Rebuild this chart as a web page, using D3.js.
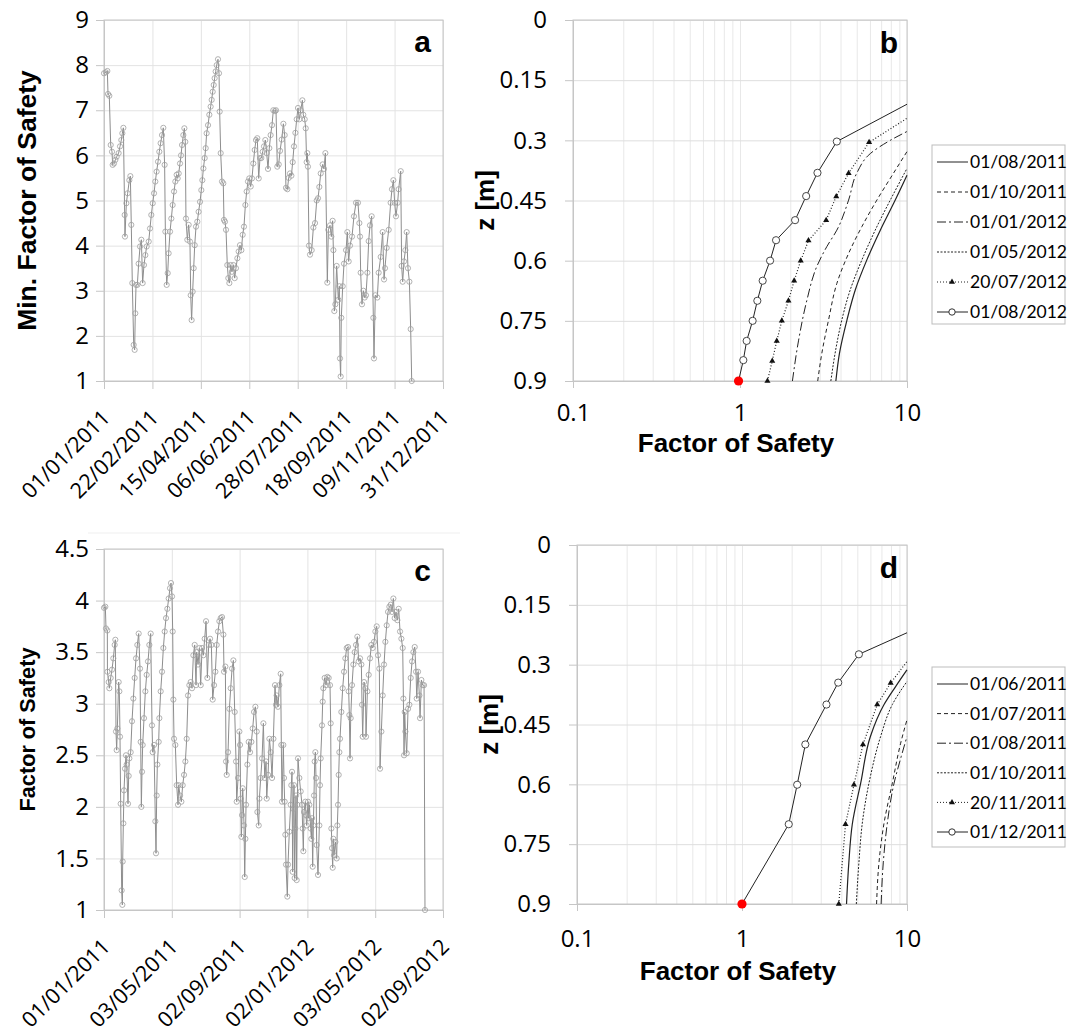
<!DOCTYPE html>
<html><head><meta charset="utf-8">
<script src="https://cdn.jsdelivr.net/npm/d3@7"></script>
<style>body{margin:0;background:#fff}svg{display:block}</style>
</head><body>
<svg id="chart" width="1067" height="1034"></svg>
<script>
// ---------- DATA ----------
// Panel a: [day since 01/01/2011, min factor of safety]
const panelA = [[0,7.82],[2.1,7.84],[3.6,7.87],[4.3,7.36],[5.7,7.32],[7.2,6.23],[8.6,6.08],[9.3,5.79],[10.7,5.82],[12.2,5.9],[13.6,5.97],[15.7,6.05],[17.2,6.2],[18.6,6.34],[19.7,6.49],[20.8,6.61],[22.2,4.68],[22.5,4.2],[24,4.94],[25.4,5.16],[27.2,5.45],[28.3,5.54],[29.3,4.46],[30.4,3.17],[31.9,1.8],[32.9,1.69],[33.6,2.5],[34.4,3.13],[35.8,3.13],[37.2,3.6],[38.7,3.98],[40.1,4.13],[41.5,3.17],[42.9,3.57],[44.4,3.79],[45.8,3.98],[48,4.09],[49.4,4.38],[50.8,4.68],[52.3,4.94],[53.7,5.16],[55.1,5.42],[56.5,5.64],[58,5.86],[59.4,6.08],[60.8,6.27],[62.3,6.45],[63.7,6.61],[65.1,5.79],[65.9,4.31],[67.3,3.13],[68.4,3.39],[69.4,3.83],[70.9,4.31],[72.3,4.6],[73.7,4.9],[75.2,5.2],[76.6,5.42],[78,5.57],[79.1,5.49],[80.2,5.6],[81.6,5.82],[82.7,6.0],[83.8,6.23],[85.2,6.45],[86.3,6.6],[87.3,6.3],[88,4.6],[89.5,4.13],[90.9,4.46],[92.3,4.09],[93.1,2.9],[94.1,2.35],[95.2,2.98],[96.3,3.5],[97.4,4.01],[98.8,4.42],[100.2,4.53],[101.6,4.75],[103.1,4.97],[104.5,5.23],[105.6,5.45],[106.7,5.71],[108.1,5.94],[109.2,6.16],[110.2,6.49],[111.7,6.67],[113.1,6.9],[114.5,7.08],[115.6,7.23],[116.7,7.41],[117.8,7.56],[118.8,7.71],[119.9,7.86],[121,8.0],[122.4,8.13],[123.5,7.82],[124.2,6.97],[125.3,6.05],[126.7,5.42],[128.1,5.38],[128.8,4.57],[129.9,4.53],[131,4.35],[132.4,3.57],[133.5,3.28],[134.6,3.17],[136,3.57],[137.4,3.42],[138.9,3.57],[140.3,3.28],[141.7,3.5],[143.2,3.72],[144.6,3.87],[146,4.01],[147.5,3.9],[148.9,4.24],[150.3,4.42],[151.8,4.9],[153.2,5.2],[154.6,5.42],[156,5.49],[157.5,5.31],[158.9,5.49],[160.3,5.82],[161.8,6.12],[163.2,6.34],[164.6,6.38],[166.1,5.49],[167.5,5.94],[168.9,5.94],[170.4,6.08],[171.8,6.2],[173.2,6.34],[174.7,6.05],[176.1,5.7],[177.5,6.16],[178.9,6.45],[180.4,6.67],[181.8,7.0],[183.6,6.98],[184.7,7.0],[186.1,5.75],[187.6,5.8],[189,6.1],[190.8,6.35],[192.6,6.7],[194,6.45],[195.4,5.28],[196.9,5.25],[198.3,5.5],[199.7,5.6],[201.2,5.55],[202.6,5.85],[204,6.2],[205.5,6.5],[206.9,6.8],[208.3,7.05],[209.7,6.8],[211.2,7.0],[213,7.22],[214,6.9],[215.5,6.8],[216.6,6.6],[217.6,5.85],[218.3,6.05],[219,5.75],[220.1,4.0],[221.2,3.8],[223,3.9],[224.8,4.4],[226.6,4.5],[228.4,5.0],[229.8,5.05],[231.2,5.3],[232.7,5.6],[234.8,5.8],[236.2,5.7],[237.7,6.05],[239.8,3.18],[240.9,4.35],[242.7,4.45],[244.1,4.2],[245.5,4.55],[246.3,3.9],[247.3,2.55],[248.4,2.7],[249.8,3.55],[251.6,2.8],[252.7,3.1],[253.4,1.5],[254.1,1.1],[254.8,2.4],[256.3,3.1],[257.7,3.6],[259.9,3.9],[261.3,4.3],[262.7,3.65],[264.1,4.0],[266.3,4.2],[268.4,4.65],[270.6,4.95],[272.7,4.95],[274.2,4.5],[274.9,4.2],[275.6,3.4],[277,2.7],[278.5,3.0],[279.9,2.85],[281.3,2.9],[282.8,3.4],[284.2,4.1],[285.6,4.45],[287.4,4.65],[289.2,2.4],[289.9,1.5],[291.3,2.9],[293.5,2.85],[294.9,3.4],[297.1,3.75],[299.2,4.3],[300.7,3.25],[301.7,3.5],[303.5,3.95],[305.7,4.35],[307.8,4.95],[309.2,5.25],[310.7,5.45],[312.1,4.95],[313.5,4.65],[315.3,4.95],[316.4,5.25],[318.6,5.65],[319.6,3.55],[320.7,3.2],[322.1,3.65],[323.6,3.9],[325,4.3],[326.4,3.5],[327.9,3.2],[329.3,2.15],[330.4,1.0]];
const aTickDays = [0,52,104,156,208,260,312,364];
const aTickLabels = ["01/01/2011","22/02/2011","15/04/2011","06/06/2011","28/07/2011","18/09/2011","09/11/2011","31/12/2011"];
const aYTicks = [1,2,3,4,5,6,7,8,9];

// Panel c: [day since 01/01/2011, factor of safety]
const panelC = [[0,3.93],[2.4,3.94],[3.6,3.73],[6,3.71],[6.2,3.31],[8.4,3.21],[9.6,3.15],[12,3.25],[14.4,3.33],[16.8,3.44],[19.2,3.57],[20.4,3.62],[21.6,2.73],[22.8,2.55],[24,2.76],[26.4,3.21],[27.6,3.12],[28.8,2.68],[30,2.03],[31.8,1.19],[33,1.05],[33.6,1.47],[34.8,1.84],[36,2.16],[37.8,2.37],[39.6,2.5],[40.8,2.41],[43.2,2.03],[44.4,2.3],[45.6,2.47],[48,2.53],[50.4,2.83],[52.8,3.05],[55.2,3.25],[57.6,3.44],[60,3.57],[62.4,3.68],[64.8,3.34],[66,2.63],[67.2,2.0],[68.4,2.34],[69.6,2.6],[72,2.86],[74.4,3.12],[76.8,3.28],[79.2,3.41],[81.6,3.57],[84,3.68],[86.4,2.79],[87.6,2.53],[90,2.6],[92.4,1.86],[93.6,1.55],[94.8,2.11],[96,2.41],[98.4,2.63],[99.6,2.86],[102,3.12],[104.4,3.31],[106.8,3.54],[109.2,3.7],[111.6,3.83],[114,3.92],[116.4,4.02],[118.8,4.12],[120.6,4.17],[122.4,4.04],[123.6,3.7],[124.8,3.04],[126,2.66],[128.4,2.6],[130.8,2.21],[133.2,2.02],[134.4,2.21],[136.8,2.11],[139.2,2.05],[141.6,2.21],[144,2.31],[146.4,2.44],[148.8,2.66],[151.2,3.08],[153.6,3.18],[156,3.21],[158.4,3.15],[160.8,3.47],[163.2,3.57],[165.6,3.18],[166.8,3.5],[169.2,3.38],[171.6,3.54],[174,3.18],[176.4,3.54],[178.8,3.47],[181.2,3.63],[183.6,3.8],[186,3.25],[188.4,3.57],[190.8,3.63],[193.2,3.57],[195.6,3.04],[198,3.18],[200.4,3.31],[202.8,3.57],[205.2,3.7],[207.6,3.8],[210,3.83],[212.4,3.84],[214.8,3.67],[216,3.31],[218.4,3.36],[219.6,2.44],[220.8,2.31],[223.2,2.53],[225.6,2.95],[228,3.15],[230.4,3.34],[232.8,3.42],[235.2,2.92],[237.6,2.44],[238.8,2.05],[241.2,2.28],[243.6,2.73],[244.8,2.6],[246,2.08],[247.2,1.71],[248.4,1.92],[249.6,2.18],[252,1.82],[253.2,1.32],[254.4,1.69],[255.6,2.02],[258,2.41],[260.4,2.63],[262.8,2.53],[265.2,2.63],[267.6,2.76],[270,2.92],[272.4,2.97],[274.8,2.73],[276,1.95],[278.4,1.82],[279.6,2.08],[282,2.28],[284.4,2.47],[286.8,2.81],[289.2,2.28],[291.6,2.44],[292.8,2.08],[295.2,2.31],[297.6,2.66],[300,2.53],[302.4,2.28],[304.8,2.66],[307.7,3.18],[309.5,2.99],[310.7,3.08],[313.1,2.97],[315.5,3.18],[317.9,3.29],[319.1,2.6],[320.3,2.05],[322.7,2.6],[323.9,2.28],[325.1,2.05],[326.3,1.73],[327.5,1.44],[329.9,1.13],[331.1,1.44],[333.5,1.76],[335.9,2.02],[337.1,2.21],[338.3,2.34],[339.5,1.37],[340.7,1.98],[341.9,2.21],[343.1,1.31],[344.3,1.79],[345.5,2.11],[346.7,1.29],[347.9,2.02],[349.1,2.47],[351.5,2.28],[353.9,2.15],[356.3,2.02],[357.5,1.79],[358.7,1.57],[359.9,1.95],[362.3,2.05],[363.5,1.92],[364.7,1.82],[367.1,2.05],[368.3,1.89],[369.5,2.02],[371.9,1.79],[373.1,1.69],[374.3,1.89],[375.5,1.42],[376.7,1.82],[377.9,2.11],[379.1,2.44],[380.3,2.53],[381.5,2.28],[382.7,1.63],[385.1,1.34],[387.5,1.82],[388.7,2.21],[389.9,2.47],[392.3,2.79],[393.5,3.02],[394.7,3.15],[397.1,3.25],[399.5,3.18],[401.9,3.26],[404.3,3.25],[406.7,3.18],[407.9,2.81],[409.1,1.79],[410.3,1.6],[411.5,1.41],[412.7,1.69],[413.9,1.53],[416.3,1.66],[418.7,1.5],[419.9,1.82],[421.1,2.02],[422.3,2.31],[423.5,2.53],[424.7,2.66],[427.1,2.92],[429.5,3.15],[431.9,3.31],[434.3,3.44],[436.7,3.54],[439.1,3.55],[440.3,3.12],[441.5,2.89],[442.7,2.47],[443.9,2.86],[446.3,3.18],[448.7,3.38],[451.1,3.5],[453.5,3.57],[455.9,3.65],[458.3,3.41],[460.7,3.44],[463.1,3.38],[464.3,2.99],[465.5,2.68],[467.9,3.21],[470.3,3.15],[471.5,2.68],[473.9,3.12],[476.3,3.28],[478.7,3.44],[481.1,3.57],[483.5,3.54],[485.9,3.6],[488.3,3.7],[490.7,3.75],[493.1,3.47],[495.5,3.34],[496.7,2.37],[499.1,2.73],[501.5,3.08],[503.9,3.38],[506.3,3.6],[508.7,3.76],[511.1,3.89],[513.5,3.94],[515.9,3.96],[518.3,3.89],[520.7,4.02],[523.1,3.83],[525.5,3.89],[527.9,3.81],[530.3,3.92],[532.7,3.7],[535.1,3.63],[537.5,3.54],[538.7,3.05],[539.9,2.5],[541.1,2.92],[542.3,2.73],[544.7,2.52],[547.1,2.95],[549.5,2.99],[551.9,3.25],[554.3,3.41],[556.7,3.5],[559.1,3.55],[561.5,3.31],[562.7,3.05],[565.1,3.31],[567.5,3.08],[568.7,2.86],[571.1,3.23],[573.5,3.18],[575.9,3.18],[577.6,1.0]];
const cTickDays = [0,122,244,366,488,610];
const cTickLabels = ["01/01/2011","03/05/2011","02/09/2011","02/01/2012","03/05/2012","02/09/2012"];
const cYTicks = [1,1.5,2,2.5,3,3.5,4,4.5];

// Panels b and d: profiles [factor of safety, depth z (m)]
const depthTicks = [0,0.15,0.3,0.45,0.6,0.75,0.9];
const depthLabels = ["0","0.15","0.3","0.45","0.6","0.75","0.9"];
const fsTicks = [0.1,1,10];
const fsLabels = ["0.1","1","10"];

const b_01_08_2011 = [[3.75,0.9],[3.94,0.831],[4.37,0.748],[4.9,0.673],[5.75,0.598],[6.92,0.524],[8.32,0.457],[10,0.387]];
const b_01_10_2011 = [[2.92,0.9],[3.09,0.831],[3.39,0.748],[3.8,0.657],[4.47,0.582],[5.37,0.515],[6.6,0.449],[8.3,0.382],[10,0.328]];
const b_01_01_2012 = [[2.06,0.9],[2.24,0.8],[2.51,0.7],[2.88,0.615],[3.31,0.565],[3.8,0.524],[4.47,0.449],[5.0,0.382],[6.03,0.333],[7.94,0.3],[10,0.278]];
const b_01_05_2012 = [[3.5,0.9],[3.71,0.831],[4.07,0.748],[4.57,0.673],[5.37,0.598],[6.45,0.524],[7.94,0.449],[10,0.37]];
const b_20_07_2012 = [[1.46,0.9],[1.56,0.85],[1.66,0.8],[1.78,0.75],[1.95,0.7],[2.11,0.65],[2.31,0.6],[2.57,0.55],[3.28,0.499],[3.77,0.44],[4.47,0.382],[5.93,0.305],[10,0.245]];
const b_01_08_2012 = [[0.98,0.9],[1.047,0.848],[1.096,0.8],[1.19,0.75],[1.27,0.7],[1.367,0.65],[1.514,0.6],[1.644,0.549],[2.137,0.499],[2.49,0.439],[2.91,0.381],[3.8,0.303],[10,0.21]];
const b_failure = [[0.98,0.9]];

const d_01_06_2011 = [[4.3,0.9],[4.44,0.797],[4.66,0.7],[5.24,0.597],[6.0,0.48],[7.26,0.4],[8.53,0.355],[10,0.313]];
const d_01_07_2011 = [[6.54,0.9],[6.76,0.797],[7.26,0.697],[8.15,0.597],[9.15,0.497],[10,0.438]];
const d_01_08_2011 = [[6.97,0.9],[7.18,0.797],[7.6,0.697],[8.35,0.597],[9.23,0.53],[10,0.48]];
const d_01_10_2011 = [[4.93,0.9],[5.11,0.797],[5.36,0.697],[6.0,0.58],[6.92,0.48],[8.15,0.4],[10,0.342]];
const d_20_11_2011 = [[3.86,0.9],[4.24,0.7],[4.77,0.601],[5.41,0.5],[6.6,0.4],[7.96,0.346],[10,0.292]];
const d_01_12_2011 = [[1.0,0.9],[1.92,0.7],[2.16,0.601],[2.42,0.5],[3.25,0.4],[3.83,0.345],[5.11,0.274],[10,0.22]];
const d_failure = [[1.0,0.9]];

// ---------- DRAWING ----------
const svg = d3.select('#chart');
const TICKF = '"Open Sans", Lato, sans-serif';
const LEGF = 'Lato, "Open Sans", sans-serif';
const BOLDF = '"Liberation Sans", Arial, sans-serif';
const GRID = '#e3e3e3', FRAME = '#c6c6c6';

svg.append('line').attr('x1',88).attr('x2',460).attr('y1',533).attr('y2',533).attr('stroke','#efefef');

function styleAxis(s){
  s.select('.domain').attr('stroke',FRAME);
  s.selectAll('.tick line').attr('stroke',FRAME);
  s.selectAll('text').attr('font-family',TICKF).attr('font-size',24).attr('fill','#000');
}

function frame(g,p){
  g.append('rect').attr('x',p.x0).attr('y',p.y0).attr('width',p.x1-p.x0).attr('height',p.y1-p.y0)
   .attr('fill','none').attr('stroke',FRAME);
}

function timePanel(p){
  const x = d3.scaleLinear().domain([0,p.days]).range([p.x0,p.x1]);
  const y = d3.scaleLinear().domain([p.yTicks[0],p.yTicks[p.yTicks.length-1]]).range([p.y1,p.y0]);
  const g = svg.append('g');
  g.append('g').attr('transform',`translate(${p.x0},0)`)
    .call(d3.axisLeft(y).tickValues(p.yTicks).tickSize(-(p.x1-p.x0)).tickFormat(''))
    .call(s=>{s.select('.domain').remove(); s.selectAll('line').attr('stroke',GRID);});
  g.append('g').attr('transform',`translate(0,${p.y0})`)
    .call(d3.axisTop(x).tickValues(p.xTicks).tickSize(-(p.y1-p.y0)).tickFormat(''))
    .call(s=>{s.select('.domain').remove(); s.selectAll('line').attr('stroke',GRID);});
  frame(g,p);
  g.append('g').attr('transform',`translate(${p.x0},0)`)
    .call(d3.axisLeft(y).tickValues(p.yTicks).tickSize(8).tickPadding(7).tickFormat(d=>String(d)))
    .call(styleAxis);
  const xa = g.append('g').attr('transform',`translate(0,${p.y1})`)
    .call(d3.axisBottom(x).tickValues(p.xTicks).tickSize(8).tickFormat((d,i)=>p.xLabels[i]))
    .call(styleAxis);
  xa.selectAll('text').attr('y',0).attr('dy',0).attr('text-anchor','end').attr('font-size',21.5)
    .attr('transform',`translate(7,${p.labDy}) rotate(-45)`);
  const line = d3.line().x(d=>x(d[0])).y(d=>y(Math.max(d[1],p.yTicks[0])));
  g.append('path').datum(p.data).attr('d',line).attr('fill','none').attr('stroke','#8e8e8e').attr('stroke-width',1);
  g.selectAll('circle.m').data(p.data).join('circle').attr('class','m')
    .attr('cx',d=>x(d[0])).attr('cy',d=>y(Math.max(d[1],p.yTicks[0]))).attr('r',2.6)
    .attr('fill','none').attr('stroke','#a0a0a0').attr('stroke-width',0.8);
  g.append('text').attr('transform',`translate(${p.titleX},${(p.y0+p.y1)/2}) rotate(-90)`)
    .attr('text-anchor','middle').attr('font-family',BOLDF).attr('font-weight','bold')
    .attr('font-size',p.titleSize).text(p.title);
  g.append('text').attr('x',p.x1-12).attr('y',p.y0+32).attr('text-anchor','end')
    .attr('font-family',BOLDF).attr('font-weight','bold').attr('font-size',30).text(p.letter);
}

const STYLES = {
  solid:{dash:null},
  dashed:{dash:'4,3'},
  dashdot:{dash:'9,3,2,3'},
  fine:{dash:'2,1.5'},
  dotted:{dash:'1,2'}
};

function profilePanel(p){
  const x = d3.scaleLog().domain([0.1,10]).range([p.x0,p.x1]);
  const y = d3.scaleLinear().domain([0,0.9]).range([p.y0,p.y1]);
  const g = svg.append('g');
  const minor = x.ticks(); // 0.1..10 log ticks
  g.append('g').attr('transform',`translate(0,${p.y0})`)
    .call(d3.axisTop(x).tickValues(minor).tickSize(-(p.y1-p.y0)).tickFormat(''))
    .call(s=>{s.select('.domain').remove(); s.selectAll('line').attr('stroke','#e8e8e8');});
  g.append('g').attr('transform',`translate(${p.x0},0)`)
    .call(d3.axisLeft(y).tickValues(depthTicks).tickSize(-(p.x1-p.x0)).tickFormat(''))
    .call(s=>{s.select('.domain').remove(); s.selectAll('line').attr('stroke','#dedede');});
  frame(g,p);
  g.append('g').attr('transform',`translate(${p.x0},0)`)
    .call(d3.axisLeft(y).tickValues(depthTicks).tickSize(8).tickPadding(18).tickFormat((d,i)=>depthLabels[i]))
    .call(styleAxis);
  const xa = g.append('g').attr('transform',`translate(0,${p.y1})`)
    .call(d3.axisBottom(x).tickValues(fsTicks).tickSize(7).tickFormat((d,i)=>fsLabels[i]))
    .call(styleAxis);
  xa.selectAll('text').attr('y',p.xLabelDy).attr('dy',0);
  const line = d3.line().x(d=>x(d[0])).y(d=>y(d[1]));
  const smooth = d3.line().x(d=>x(d[0])).y(d=>y(d[1])).curve(d3.curveMonotoneY);
  p.series.forEach(s=>{
    g.append('path').datum(s.data).attr('d',s.marker?line:smooth).attr('fill','none')
      .attr('stroke',s.color||'#222').attr('stroke-width',s.width||1)
      .attr('stroke-dasharray',STYLES[s.style].dash);
    if(s.marker==='circle'){
      g.selectAll(null).data(s.data.slice(1,-1)).join('circle')
        .attr('cx',d=>x(d[0])).attr('cy',d=>y(d[1])).attr('r',3.6)
        .attr('fill','#fff').attr('stroke','#333').attr('stroke-width',0.9);
    } else if(s.marker==='triangle'){
      g.selectAll(null).data(s.data.slice(0,-1)).join('path')
        .attr('transform',d=>`translate(${x(d[0])},${y(d[1])})`)
        .attr('d',d3.symbol(d3.symbolTriangle,16)).attr('fill','#111');
    }
  });
  g.selectAll(null).data(p.failure).join('circle')
    .attr('cx',d=>x(d[0])).attr('cy',d=>y(d[1])).attr('r',4.6).attr('fill','#ff0000');
  // titles
  g.append('text').attr('x',(p.x0+p.x1)/2-4).attr('y',p.xTitleY).attr('text-anchor','middle')
    .attr('font-family',BOLDF).attr('font-weight','bold').attr('font-size',26).text('Factor of Safety');
  g.append('text').attr('transform',`translate(${p.zX},${(p.y0+p.y1)/2}) rotate(-90)`)
    .attr('text-anchor','middle').attr('font-family',BOLDF).attr('font-weight','bold')
    .attr('font-size',26).text('z [m]');
  g.append('text').attr('x',p.x1-9).attr('y',p.y0+33).attr('text-anchor','end')
    .attr('font-family',BOLDF).attr('font-weight','bold').attr('font-size',30).text(p.letter);
  // legend
  const L = g.append('g');
  L.append('rect').attr('x',932).attr('y',p.legY0).attr('width',133).attr('height',p.legY1-p.legY0)
    .attr('fill','#fff').attr('stroke','#bdbdbd');
  p.series.slice().sort((a,b)=>a.order-b.order).forEach((s,i)=>{
    const yy = p.legY0 + 17 + i*p.legStep;
    L.append('line').attr('x1',937).attr('x2',968).attr('y1',yy).attr('y2',yy)
      .attr('stroke','#222').attr('stroke-width',1).attr('stroke-dasharray',STYLES[s.style].dash);
    if(s.marker==='circle') L.append('circle').attr('cx',952).attr('cy',yy).attr('r',3.2).attr('fill','#fff').attr('stroke','#333');
    if(s.marker==='triangle') L.append('path').attr('transform',`translate(952,${yy})`).attr('d',d3.symbol(d3.symbolTriangle,16)).attr('fill','#111');
    L.append('text').attr('x',970).attr('y',yy).attr('dy','0.35em').attr('font-family',LEGF)
      .attr('font-size',17.5).attr('fill','#000').text(s.label);
  });
}

timePanel({x0:104,x1:443,y0:20,y1:381,days:364,data:panelA,xTicks:aTickDays,xLabels:aTickLabels,
  yTicks:aYTicks,title:'Min. Factor of Safety',titleSize:26.5,titleX:36,letter:'a',labDy:38});
timePanel({x0:104,x1:443,y0:549,y1:910,days:610,data:panelC,xTicks:cTickDays,xLabels:cTickLabels,
  yTicks:cYTicks,title:'Factor of Safety',titleSize:21.7,titleX:35,letter:'c',labDy:38});

profilePanel({x0:573,x1:907,y0:20,y1:381,letter:'b',xLabelDy:40,xTitleY:452,zX:494,
  legY0:145,legY1:324,legStep:30,failure:b_failure,
  series:[
    {label:'01/08/2011',data:b_01_08_2011,style:'solid',order:0,width:1.2},
    {label:'01/10/2011',data:b_01_10_2011,style:'dashed',order:1},
    {label:'01/01/2012',data:b_01_01_2012,style:'dashdot',order:2},
    {label:'01/05/2012',data:b_01_05_2012,style:'fine',order:3},
    {label:'20/07/2012',data:b_20_07_2012,style:'dotted',marker:'triangle',order:4,width:1.2},
    {label:'01/08/2012',data:b_01_08_2012,style:'solid',marker:'circle',order:5}
  ]});
profilePanel({x0:577,x1:907,y0:545,y1:904,letter:'d',xLabelDy:43,xTitleY:980,zX:498,
  legY0:667,legY1:847,legStep:29.6,failure:d_failure,
  series:[
    {label:'01/06/2011',data:d_01_06_2011,style:'solid',order:0,width:1.2},
    {label:'01/07/2011',data:d_01_07_2011,style:'dashed',order:1},
    {label:'01/08/2011',data:d_01_08_2011,style:'dashdot',order:2},
    {label:'01/10/2011',data:d_01_10_2011,style:'fine',order:3},
    {label:'20/11/2011',data:d_20_11_2011,style:'dotted',marker:'triangle',order:4,width:1.2},
    {label:'01/12/2011',data:d_01_12_2011,style:'solid',marker:'circle',order:5}
  ]});
</script>
</body></html>
